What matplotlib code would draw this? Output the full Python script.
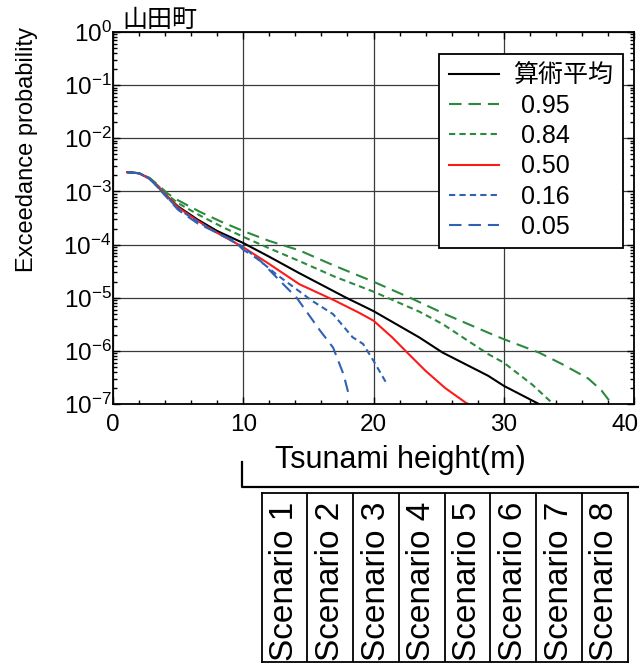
import numpy as np
import matplotlib
matplotlib.use("Agg")
import matplotlib.pyplot as plt
from matplotlib.lines import Line2D
from matplotlib.ticker import MultipleLocator, LogLocator, NullFormatter
from matplotlib.transforms import ScaledTranslation

plt.rcParams["font.family"] = ["Liberation Sans", "Noto Sans CJK JP"]
plt.rcParams["lines.scale_dashes"] = False

# ─── data (x in m, exceedance probability) ────────────────────────────────
x_mean = [1.1, 2.0, 2.8, 3.5, 4.2, 5.0, 6.5, 8.0, 10.0, 12.0, 14.3, 17.9, 18.9, 20.0, 23.5, 25.3,
          28.8, 30.0, 32.7]
p_mean = [2.3e-3, 2.2e-3, 1.75e-3, 1.2e-3, 7.9e-4, 5.2e-4, 2.95e-4, 1.8e-4, 1.07e-4, 5.9e-5,
          2.9e-5, 1.0e-5, 7.6e-6, 5.6e-6, 1.8e-6, 9.3e-7, 3.4e-7, 2.2e-7, 1.0e-7]

x_q95 = [1.1, 2.0, 2.8, 3.5, 4.2, 5.0, 6.7, 8.3, 10.0, 12.0, 14.3, 17.0, 20.0, 23.0, 25.5, 28.8,
         30.0, 32.7, 34.5, 36.5, 37.5, 38.3]
p_q95 = [2.3e-3, 2.2e-3, 1.8e-3, 1.3e-3, 9.1e-4, 6.8e-4, 4.1e-4, 2.7e-4, 1.8e-4, 1.17e-4,
         7.8e-5, 4.0e-5, 2.0e-5, 9.5e-6, 4.9e-6, 2.2e-6, 1.66e-6, 9.3e-7, 5.6e-7, 3.0e-7,
         1.8e-7, 1.0e-7]

x_q84 = [1.1, 2.0, 2.8, 3.5, 4.2, 5.0, 6.7, 8.3, 10.0, 12.0, 14.3, 17.0, 20.0, 23.5, 25.3, 28.8,
         30.0, 32.2, 33.8]
p_q84 = [2.3e-3, 2.2e-3, 1.75e-3, 1.25e-3, 8.5e-4, 6.0e-4, 3.5e-4, 2.2e-4, 1.4e-4, 8.5e-5,
         4.9e-5, 2.5e-5, 1.3e-5, 5.5e-6, 3.2e-6, 8.7e-7, 6.0e-7, 2.3e-7, 1.0e-7]

x_q50 = [1.1, 2.0, 2.8, 3.5, 4.2, 5.0, 6.5, 8.0, 10.0, 12.0, 14.3, 17.0, 18.9, 20.0, 21.45, 22.7,
         24.0, 25.5, 27.1, 27.3]
p_q50 = [2.3e-3, 2.2e-3, 1.75e-3, 1.2e-3, 7.9e-4, 5.0e-4, 2.8e-4, 1.66e-4, 8.9e-5, 4.3e-5,
         1.8e-5, 8.9e-6, 5.2e-6, 3.7e-6, 1.78e-6, 8.7e-7, 4.2e-7, 2.0e-7, 1.05e-7, 1.0e-7]

x_q16 = [1.1, 2.0, 2.8, 3.5, 4.2, 5.0, 6.5, 8.0, 10.0, 12.5, 15.3, 16.9, 18.4, 19.2, 20.0, 20.9, 21.0]
p_q16 = [2.3e-3, 2.2e-3, 1.75e-3, 1.15e-3, 7.6e-4, 4.7e-4, 2.7e-4, 1.66e-4, 9.0e-5, 2.8e-5,
         8.7e-6, 4.9e-6, 1.8e-6, 1.35e-6, 6.5e-7, 2.7e-7, 2.5e-7]

x_q05 = [1.1, 2.0, 2.8, 3.5, 4.2, 5.0, 6.5, 8.0, 9.25, 10.0, 11.3, 12.8, 14.1, 15.9, 16.9, 17.7, 18.1]
p_q05 = [2.3e-3, 2.2e-3, 1.75e-3, 1.15e-3, 7.4e-4, 4.5e-4, 2.5e-4, 1.66e-4, 1.2e-4, 8.0e-5,
         5.0e-5, 2.1e-5, 1.0e-5, 2.4e-6, 1.15e-6, 3.6e-7, 1.5e-7]

labels = ["算術平均", " 0.95", " 0.84", " 0.50", " 0.16", " 0.05"]
scenarios = [f"Scenario {i}" for i in range(1, 9)]

GREEN = "#2b8a3e"
BLUE = "#2f62b5"
RED = "#ff1a1a"
LONG = (9, 5)
SHORT = (4.5, 3)

W, H = 639, 663
fig = plt.figure(figsize=(W / 100, H / 100), dpi=100)
ax = fig.add_axes([113 / W, 1 - 404 / H, 521 / W, 372 / H])

series = [
    (x_mean, p_mean, "black", None),
    (x_q95, p_q95, GREEN, LONG),
    (x_q84, p_q84, GREEN, SHORT),
    (x_q50, p_q50, RED, None),
    (x_q16, p_q16, BLUE, SHORT),
    (x_q05, p_q05, BLUE, LONG),
]
for (xs, ps, col, dash), lab in zip(series, labels):
    ln, = ax.semilogy(xs, ps, color=col, lw=1.5, label=lab)
    if dash:
        ln.set_dashes(dash)

ax.set_xlim(0, 40)
ax.set_ylim(1e-7, 1)
ax.set_xticks([0, 10, 20, 30, 40])
ax.xaxis.set_minor_locator(MultipleLocator(2))
ax.yaxis.set_major_locator(LogLocator(base=10, numticks=20))
ax.yaxis.set_minor_locator(LogLocator(base=10, subs=np.arange(2, 10), numticks=100))
ax.yaxis.set_minor_formatter(NullFormatter())
ax.grid(True, which="major", color="#3a3a3a", lw=0.9)
ax.tick_params(which="both", direction="in", top=True, right=True, width=1.0)
ax.tick_params(which="major", length=5, labelsize=17.5)
ax.tick_params(which="minor", length=3)
ax.tick_params(axis="y", pad=1)
ax.tick_params(axis="x", pad=7)
for sp in ax.spines.values():
    sp.set_linewidth(1.3)
# last x label is pulled in so it stays inside the canvas
last = ax.get_xticklabels()[-1]
last.set_transform(last.get_transform() + ScaledTranslation(-9 / 100, 0, fig.dpi_scale_trans))

leg = ax.legend(loc="upper right", bbox_to_anchor=(623 / W, 1 - 54 / H),
                bbox_transform=fig.transFigure, borderaxespad=0, fancybox=False,
                framealpha=1, edgecolor="black", fontsize=18, handlelength=2.0,
                handletextpad=0.6, labelspacing=0.25, borderpad=0.38)
leg.get_frame().set_linewidth(1.3)

fig.text(122 / W, 1 - 27 / H, "山田町", fontsize=18, va="baseline", ha="left",
         family=["Noto Sans CJK JP"])
fig.text(27 / W, 1 - 149 / H, "Exceedance probability", fontsize=17, rotation=90,
         ha="center", va="center")
fig.text(275 / W, 1 - 468 / H, "Tsunami height(m)", fontsize=22, ha="left", va="baseline")

# bracket under the x axis
fig.add_artist(Line2D([241.7 / W, 241.7 / W, 1.0], [1 - 462 / H, 1 - 487 / H, 1 - 487 / H],
                      transform=fig.transFigure, color="black", lw=1.6))

# scenario table
tax = fig.add_axes([261.7 / W, 1 - 661.7 / H, 366 / W, 169 / H])
tax.set_xlim(0, len(scenarios))
tax.set_ylim(0, 1)
tax.set_xticks([])
tax.set_yticks([])
for sp in tax.spines.values():
    sp.set_linewidth(1.3)
for i, s in enumerate(scenarios):
    if i > 0:
        tax.axvline(i, color="black", lw=1.3)
    tax.text(i + 0.5, 1 - 9 / 169, s, rotation=90, ha="center", va="top", fontsize=24)

fig.savefig("out.png", dpi=100)
